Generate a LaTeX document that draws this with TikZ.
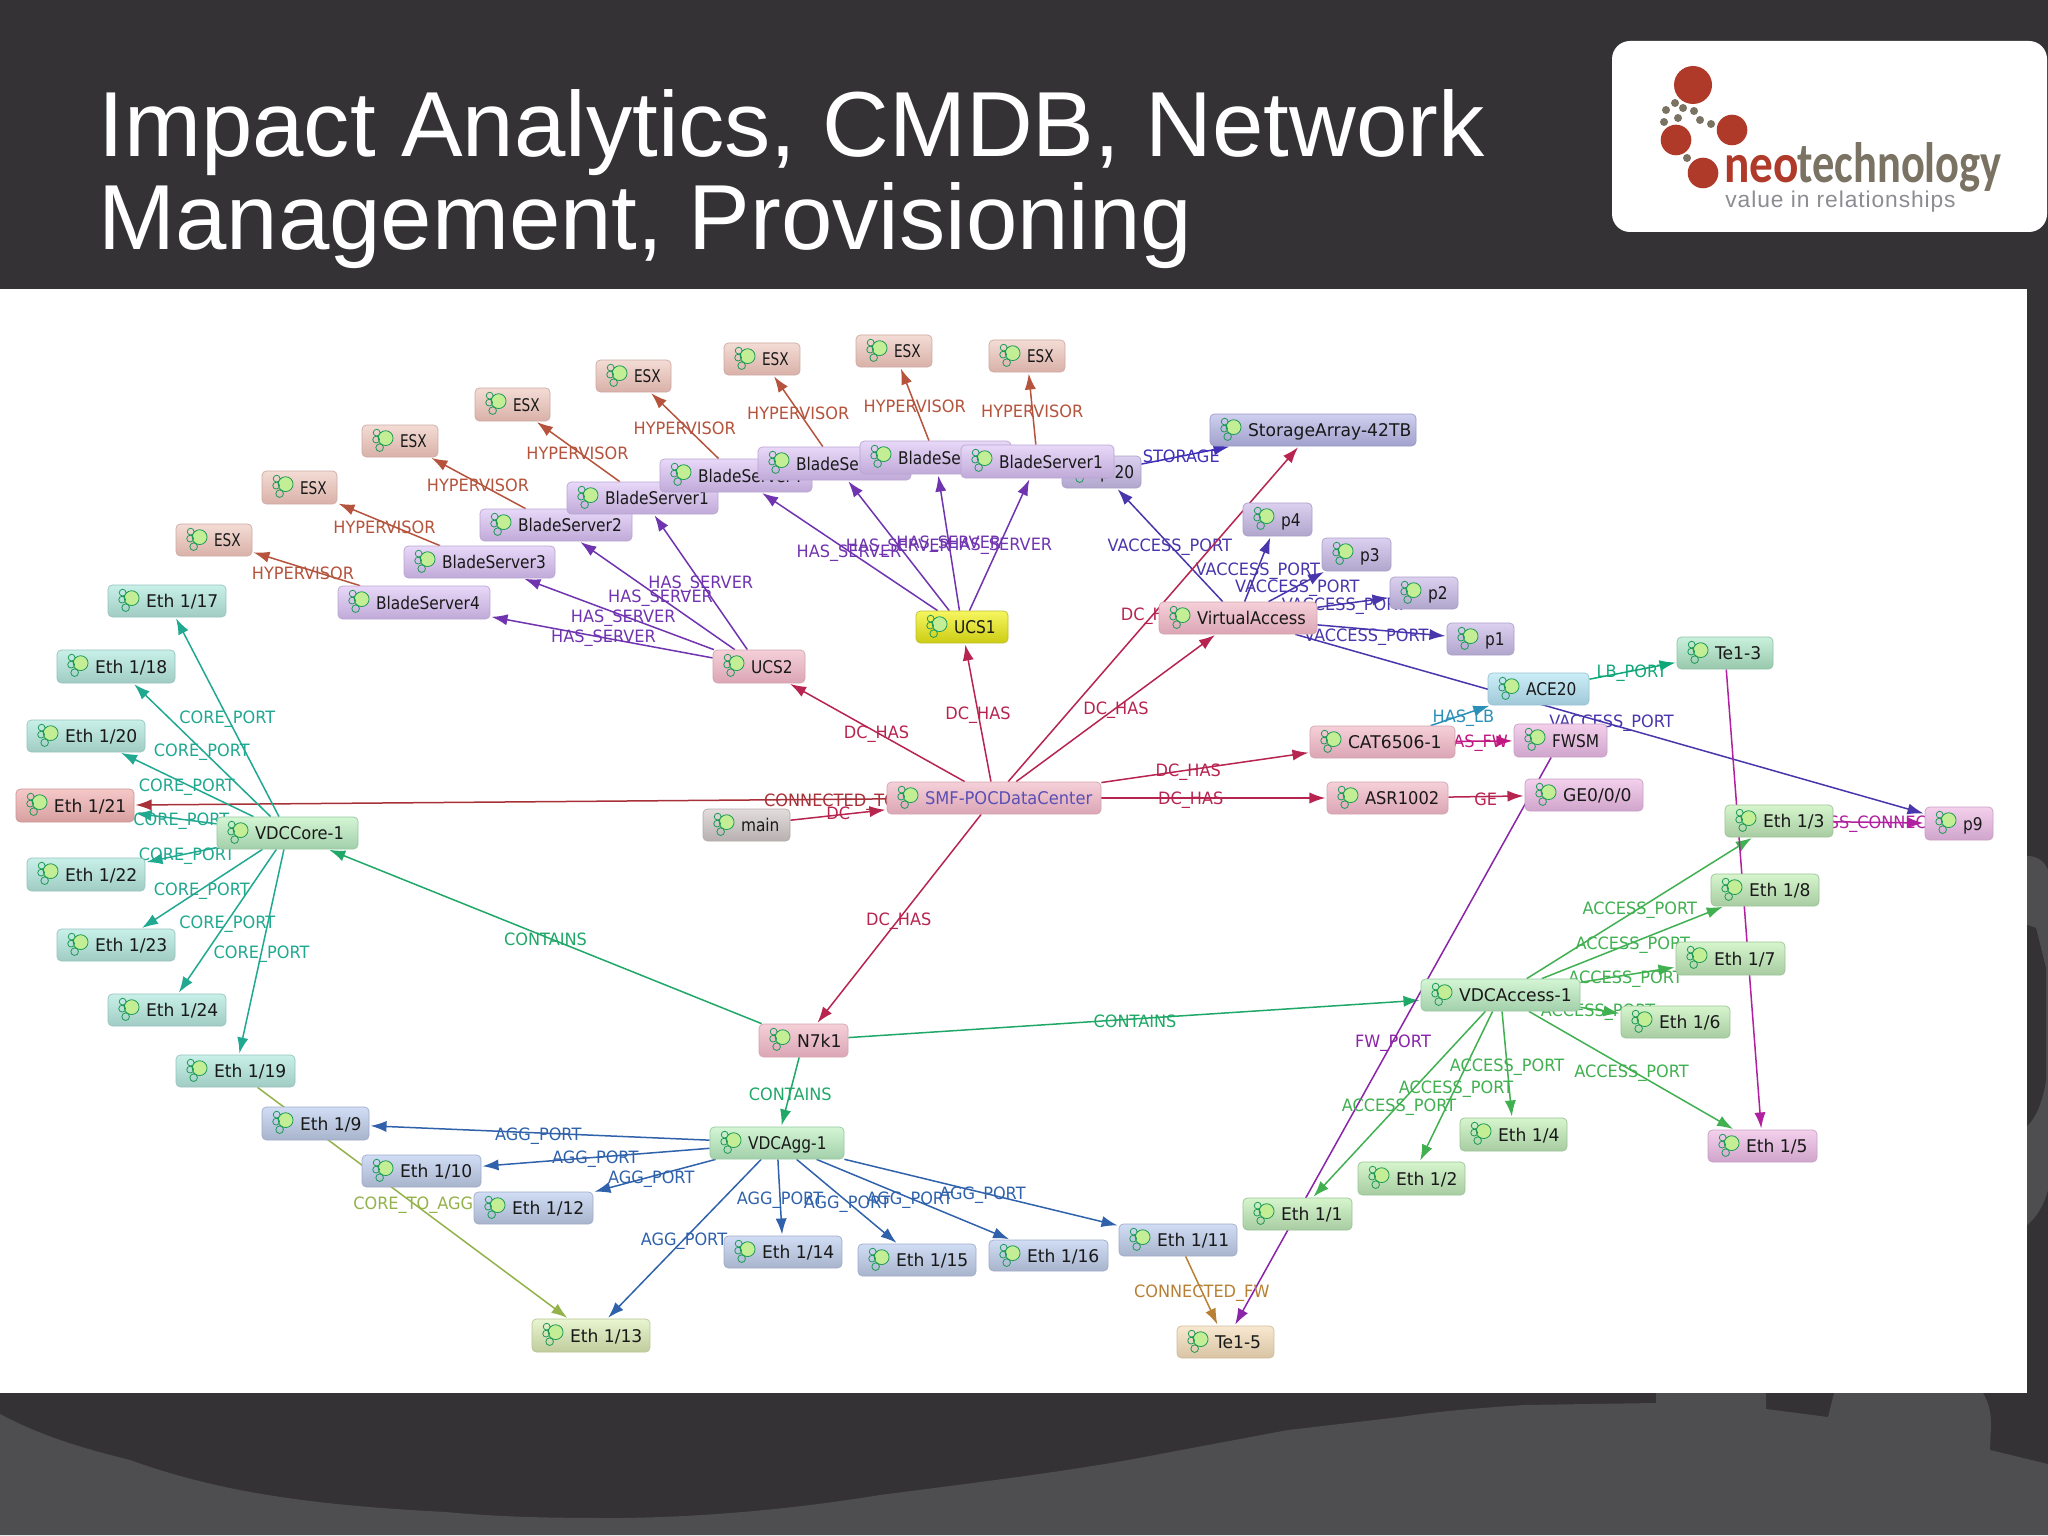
\documentclass[tikz,border=0pt]{standalone}
\usepackage{fontspec}
\usetikzlibrary{calc,arrows.meta}
\setmainfont{Liberation Sans}
\newfontfamily\nf[FakeStretch=0.88]{DejaVu Sans}
\newfontfamily\mf[FakeStretch=0.93]{DejaVu Sans}
\newfontfamily\ef[FakeStretch=0.98]{DejaVu Sans}
\newfontfamily\xf[FakeStretch=0.78]{DejaVu Sans}
\newfontfamily\lf[FakeStretch=0.95]{DejaVu Sans}
\newfontfamily\logoN[FakeStretch=0.86]{Carlito}
\newfontfamily\logoT[FakeStretch=0.78]{Carlito}
\pgfdeclarelayer{slide}\pgfdeclarelayer{edges}
\pgfsetlayers{slide,edges,main}
\definecolor{slidedark}{HTML}{343235}
\definecolor{slidelight}{HTML}{4E4D50}
\definecolor{logored}{HTML}{B03A2A}
\definecolor{logotan}{HTML}{7A7262}
\definecolor{logogrey}{HTML}{8C8C92}
\definecolor{cHV}{HTML}{B5533C}
\definecolor{cHS}{HTML}{7034B0}
\definecolor{cVP}{HTML}{4A36AC}
\definecolor{cDC}{HTML}{B82450}
\definecolor{cCT}{HTML}{A83038}
\definecolor{cCP}{HTML}{20A890}
\definecolor{cCO}{HTML}{20A868}
\definecolor{cAG}{HTML}{3062AC}
\definecolor{cCA}{HTML}{94B24A}
\definecolor{cLB}{HTML}{10A878}
\definecolor{cHL}{HTML}{2A90B8}
\definecolor{cFW}{HTML}{C01880}
\definecolor{cFP}{HTML}{8A24A8}
\definecolor{cCF}{HTML}{B88034}
\definecolor{cAC}{HTML}{40B050}
\definecolor{cST}{HTML}{4030B8}
\definecolor{cMG}{HTML}{B020A0}
\definecolor{smftext}{HTML}{5A4FB4}
\definecolor{icn}{HTML}{1D9A55}
\definecolor{icf}{HTML}{C4EE96}
\newlength\gnw
\newcounter{ec}
\newcommand{\mk}[4]{\definecolor{#1T}{HTML}{#2}\definecolor{#1B}{HTML}{#3}\definecolor{#1D}{HTML}{#4}\tikzset{#1/.style={top color=#1T,bottom color=#1B,draw=#1D}}}
\mk{nesx}{F3DCD5}{D9B1A8}{CDAAA5}
\mk{nteal}{C8F0E8}{A0CCC4}{96C3BE}
\mk{ngreen}{D4F5D4}{A2D0AA}{96C8A0}
\mk{naccess}{D6F5CD}{A8CCA2}{9BC396}
\mk{nblade}{E8D8F8}{C0AAD8}{B9A5D2}
\mk{nyellow}{F6F660}{CCCC14}{BEBE32}
\mk{npink}{F5D0D8}{DBA5B5}{D2A5AF}
\mk{nred}{F5C8C8}{D8A0A0}{CD9696}
\mk{ngrey}{E2DCDC}{B8B0B0}{B4AAAA}
\mk{nstore}{D0D0F0}{A0A0CC}{9B9BC8}
\mk{nport}{DCD0F0}{B0A5CC}{AAA0C8}
\mk{nmag}{F3D0EC}{D0A5CC}{C8A0C3}
\mk{nlb}{CCEEF8}{A0C8D8}{96C3D2}
\mk{nte}{C8F0DC}{98C8AC}{91C3A5}
\mk{nagg}{D0DDF5}{A8B4CC}{A0ACC8}
\mk{nolive}{E8F5D0}{C0CC9C}{B9C696}
\mk{ntan}{F8E8D0}{D8C4A4}{D0BC9B}
\tikzset{
 x=0.5pt,y=-0.5pt,
 gnode/.style={rounded corners=2.2pt,inner sep=0pt,line width=0.35pt,font=\fontsize{8.75}{10}\selectfont\nf,text=black!90,text height=6.5pt,text depth=0pt},
 edgeline/.style={line width=0.75pt,-{Latex[length=8pt,width=5.6pt]},shorten >=0.6pt},
 lab/.style={inner sep=0pt,yshift=-1.2pt,font=\fontsize{8.5}{10}\selectfont\lf},
 logotxt/.style={inner sep=0pt,anchor=base west},
}
\newcommand{\gn}[7]{%
 \pgfmathsetlength\gnw{(#4-#3)*0.5}%
 \node[gnode,#1,minimum width=\gnw,minimum height={(#6-#5)*0.5pt}] (#2) at ({(#3+#4)/2},{(#5+#6)/2}) {\makebox[\gnw][l]{\hspace{19pt}#7}};
 \begin{scope}[shift={(#2.north west)}]
  \fill[icf] (24,13.5) circle[radius=7.4];
  \draw[icn,line width=0.4pt] (24,13.5) circle[radius=7.4] (15,8) circle[radius=3.4] (14.5,15) circle[radius=3.4] (18,23) circle[radius=3.8];
 \end{scope}}
\newcommand{\ed}[5][0,0]{%
 \stepcounter{ec}%
 \begin{pgfonlayer}{edges}
 \draw[edgeline,#4] (#2) -- (#3);
 \node[lab,text=#4,shift={(#1)}] (L\arabic{ec}) at ($(#2)!.5!(#3)$) {#5};
 \end{pgfonlayer}}
\def\lHV{HYPERVISOR}\def\lHS{HAS\_SERVER}\def\lVP{VACCESS\_PORT}\def\lDH{DC\_HAS}
\def\lCP{CORE\_PORT}\def\lAG{AGG\_PORT}\def\lAP{ACCESS\_PORT}\def\lCN{CONTAINS}
\begin{document}
\begin{tikzpicture}
\useasboundingbox (0,0) rectangle (2048,1535);
\begin{pgfonlayer}{slide}
\fill[slidedark] (0,0) rectangle (2048,1535);
\fill[slidelight] (0,1414) .. controls (45,1438) and (90,1450) .. (130,1460) .. controls (180,1478) and (225,1488) .. (268,1495) .. controls (330,1505) and (390,1509) .. (446,1512) .. controls (510,1518) and (570,1518) .. (620,1518) .. controls (710,1517) and (800,1508) .. (880,1495) .. controls (980,1482) and (1080,1470) .. (1160,1454) -- (1288,1430) -- (1400,1417) .. controls (1440,1411) and (1480,1408) .. (1524,1405) -- (1656,1403) -- (1656,1393) -- (1766,1393) -- (1766,1409) -- (1828,1417) -- (1834,1393) -- (1983,1393) .. controls (1990,1405) and (1991,1415) .. (1991,1425) -- (1990,1450) -- (2048,1464) -- (2048,1535) -- (0,1535) -- cycle;
\fill[slidelight] (2027,856) .. controls (2036,856) and (2044,860) .. (2048,870) -- (2048,1190) .. controls (2044,1205) and (2036,1218) .. (2027,1225) -- cycle;
\fill[slidedark] (2027,925) -- (2036,928) -- (2046,968) -- (2046,1080) .. controls (2043,1100) and (2036,1118) .. (2027,1126) -- cycle;
\fill[white] (0,289) rectangle (2027,1393);
\end{pgfonlayer}
% title
\node[anchor=north west,inner sep=0pt,align=left,text=white,font=\fontsize{46.2}{46.7}\selectfont] (title) at (98,89) {Impact Analytics, CMDB, Network\\Management, Provisioning};
% logo
\node[fill=white,rounded corners=9pt,minimum width=217.5pt,minimum height=95.5pt,inner sep=0pt] (logobox) at (1829.5,136.5) {};
\fill[logored] (1693,85) circle[radius=19] (1732,130) circle[radius=15.3] (1676,140) circle[radius=15.3] (1703,173) circle[radius=15.3];
\fill[logotan] (1675,103) circle[radius=4] (1666,110) circle[radius=4] (1683,108) circle[radius=4] (1694,111) circle[radius=4] (1678,118) circle[radius=4] (1664,122) circle[radius=4] (1700,120) circle[radius=4] (1711,124) circle[radius=4] (1687,158) circle[radius=4];
\node[logotxt,text=logored,font=\fontsize{27.5}{28}\logoN\bfseries] (neo) at (1724,183) {neo};
\node[logotxt,text=logotan,font=\fontsize{28.5}{28}\logoT\bfseries] (tech) at (1797,183) {technology};
\node[logotxt,text=logogrey,font=\fontsize{11.4}{14}\selectfont\addfontfeature{LetterSpace=4}] (tag) at (1725,208) {value in relationships};
% nodes
\gn{nesx}{esxa}{176}{252}{524}{556}{\xf ESX}
\gn{nesx}{esxb}{262}{337}{471}{504}{\xf ESX}
\gn{nesx}{esxc}{362}{438}{425}{457}{\xf ESX}
\gn{nesx}{esxd}{475}{550}{388}{421}{\xf ESX}
\gn{nesx}{esxe}{596}{671}{360}{392}{\xf ESX}
\gn{nesx}{esxf}{724}{800}{343}{375}{\xf ESX}
\gn{nesx}{esxg}{856}{932}{335}{367}{\xf ESX}
\gn{nesx}{esxh}{989}{1065}{340}{372}{\xf ESX}
\gn{nstore}{storage}{1210}{1416}{414}{446}{\ef StorageArray-42TB}
\gn{nport}{vp20}{1062}{1141}{456}{488}{p 20}
\gn{nblade}{bsFour}{338}{490}{586}{619}{BladeServer4}
\gn{nblade}{bsThree}{404}{555}{546}{578}{BladeServer3}
\gn{nblade}{bsTwo}{480}{632}{509}{541}{BladeServer2}
\gn{nblade}{bsOne}{567}{718}{482}{514}{BladeServer1}
\gn{nblade}{usFour}{660}{812}{459}{492}{BladeServer4}
\gn{nblade}{usThree}{758}{911}{447}{480}{BladeServer3}
\gn{nblade}{usTwo}{860}{1011}{441}{474}{BladeServer2}
\gn{nblade}{usOne}{961}{1114}{445}{478}{BladeServer1}
\gn{nport}{pfour}{1243}{1312}{503}{536}{p4}
\gn{nport}{pthree}{1322}{1391}{538}{571}{p3}
\gn{nport}{ptwo}{1390}{1458}{577}{609}{p2}
\gn{nport}{pone}{1447}{1514}{623}{655}{p1}
\gn{nyellow}{ucsone}{916}{1008}{611}{643}{UCS1}
\gn{npink}{ucstwo}{713}{805}{650}{683}{UCS2}
\gn{npink}{vaccess}{1159}{1317}{602}{634}{\mf VirtualAccess}
\gn{npink}{smf}{887}{1101}{782}{814}{\mf\textcolor{smftext}{SMF-POCDataCenter}}
\gn{ngrey}{mainn}{703}{790}{809}{841}{main}
\gn{npink}{cat}{1310}{1455}{726}{758}{\ef CAT6506-1}
\gn{npink}{asr}{1327}{1448}{782}{814}{\mf ASR1002}
\gn{nmag}{gezero}{1525}{1643}{779}{811}{\ef GE0/0/0}
\gn{nmag}{fwsm}{1514}{1607}{724}{757}{FWSM}
\gn{nlb}{ace}{1488}{1589}{673}{705}{ACE20}
\gn{nte}{teone}{1677}{1773}{637}{669}{\ef Te1-3}
\gn{nmag}{pnine}{1925}{1993}{807}{840}{p9}
\gn{nteal}{ethSeventeen}{108}{226}{585}{617}{\ef Eth 1/17}
\gn{nteal}{ethEighteen}{57}{175}{650}{683}{\ef Eth 1/18}
\gn{nteal}{ethTwenty}{27}{145}{720}{752}{\ef Eth 1/20}
\gn{nred}{ethTwentyOne}{16}{134}{789}{822}{\ef Eth 1/21}
\gn{nteal}{ethTwentyTwo}{27}{145}{858}{891}{\ef Eth 1/22}
\gn{nteal}{ethTwentyThree}{57}{175}{929}{961}{\ef Eth 1/23}
\gn{nteal}{ethTwentyFour}{108}{226}{994}{1026}{\ef Eth 1/24}
\gn{nteal}{ethNineteen}{176}{295}{1055}{1087}{\ef Eth 1/19}
\gn{ngreen}{core}{217}{358}{817}{849}{\mf VDCCore-1}
\gn{npink}{nseven}{759}{848}{1024}{1057}{\ef N7k1}
\gn{ngreen}{agg}{710}{844}{1127}{1159}{VDCAgg-1}
\gn{nagg}{ethNine}{262}{369}{1107}{1140}{\ef Eth 1/9}
\gn{nagg}{ethTen}{362}{481}{1155}{1187}{\ef Eth 1/10}
\gn{nagg}{ethTwelve}{474}{593}{1192}{1224}{\ef Eth 1/12}
\gn{nolive}{ethThirteen}{532}{650}{1319}{1352}{\ef Eth 1/13}
\gn{nagg}{ethFourteen}{724}{842}{1236}{1268}{\ef Eth 1/14}
\gn{nagg}{ethFifteen}{858}{976}{1244}{1276}{\ef Eth 1/15}
\gn{nagg}{ethSixteen}{989}{1108}{1240}{1271}{\ef Eth 1/16}
\gn{nagg}{ethEleven}{1119}{1237}{1224}{1256}{\ef Eth 1/11}
\gn{ntan}{tefive}{1177}{1274}{1326}{1358}{\ef Te1-5}
\gn{ngreen}{access}{1421}{1580}{979}{1011}{\ef VDCAccess-1}
\gn{naccess}{ethThree}{1725}{1833}{805}{837}{\ef Eth 1/3}
\gn{naccess}{ethEight}{1711}{1819}{874}{906}{\ef Eth 1/8}
\gn{naccess}{ethSeven}{1676}{1785}{942}{975}{\ef Eth 1/7}
\gn{naccess}{ethSix}{1621}{1730}{1006}{1038}{\ef Eth 1/6}
\gn{nmag}{ethFive}{1708}{1817}{1130}{1162}{\ef Eth 1/5}
\gn{naccess}{ethFour}{1460}{1567}{1118}{1151}{\ef Eth 1/4}
\gn{naccess}{ethTwo}{1358}{1465}{1162}{1195}{\ef Eth 1/2}
\gn{naccess}{ethOne}{1243}{1352}{1198}{1230}{\ef Eth 1/1}
% edges
\ed[-11,0]{bsFour}{esxa}{cHV}{\lHV}
\ed[-5,0]{bsThree}{esxb}{cHV}{\lHV}
\ed{bsTwo}{esxc}{cHV}{\lHV}
\ed{bsOne}{esxd}{cHV}{\lHV}
\ed{usFour}{esxe}{cHV}{\lHV}
\ed{usThree}{esxf}{cHV}{\lHV}
\ed{usTwo}{esxg}{cHV}{\lHV}
\ed{usOne}{esxh}{cHV}{\lHV}
\ed[17,1]{ucstwo}{bsFour}{cHS}{\lHS}
\ed[4,2]{ucstwo}{bsThree}{cHS}{\lHS}
\ed[3,0]{ucstwo}{bsTwo}{cHS}{\lHS}
\ed{ucstwo}{bsOne}{cHS}{\lHS}
\ed{ucsone}{usFour}{cHS}{\lHS}
\ed{ucsone}{usThree}{cHS}{\lHS}
\ed{ucsone}{usTwo}{cHS}{\lHS}
\ed{ucsone}{usOne}{cHS}{\lHS}
\ed{vaccess}{vp20}{cVP}{\lVP}
\ed{vaccess}{pfour}{cVP}{\lVP}
\ed{vaccess}{pthree}{cVP}{\lVP}
\ed[13,-2]{vaccess}{ptwo}{cVP}{\lVP}
\ed[7,6]{vaccess}{pone}{cVP}{\lVP}
\ed[13,0]{vaccess}{pnine}{cVP}{\lVP}
\ed[-26,3]{vp20}{storage}{cST}{STORAGE}
\ed{smf}{ucstwo}{cDC}{\lDH}
\ed{smf}{ucsone}{cDC}{\lDH}
\ed{smf}{storage}{cDC}{\lDH}
\ed{smf}{vaccess}{cDC}{\lDH}
\ed{smf}{cat}{cDC}{\lDH}
\ed{smf}{asr}{cDC}{\lDH}
\ed{smf}{nseven}{cDC}{\lDH}
\ed[-32,-1]{mainn}{smf}{cDC}{DC}
\ed[296,-2]{smf}{ethTwentyOne}{cCT}{CONNECTED\_TO}
\ed{core}{ethSeventeen}{cCP}{\lCP}
\ed{core}{ethEighteen}{cCP}{\lCP}
\ed{core}{ethTwenty}{cCP}{\lCP}
\ed{core}{ethTwentyOne}{cCP}{\lCP}
\ed{core}{ethTwentyTwo}{cCP}{\lCP}
\ed{core}{ethTwentyThree}{cCP}{\lCP}
\ed{core}{ethTwentyFour}{cCP}{\lCP}
\ed{core}{ethNineteen}{cCP}{\lCP}
\ed{nseven}{core}{cCO}{\lCN}
\ed[-17,1]{nseven}{access}{cCO}{\lCN}
\ed{nseven}{agg}{cCO}{\lCN}
\ed[-8,1]{agg}{ethNine}{cAG}{\lAG}
\ed[-4,0]{agg}{ethTen}{cAG}{\lAG}
\ed[-4,1]{agg}{ethTwelve}{cAG}{\lAG}
\ed{agg}{ethThirteen}{cAG}{\lAG}
\ed{agg}{ethFourteen}{cAG}{\lAG}
\ed{agg}{ethFifteen}{cAG}{\lAG}
\ed[-3,-1]{agg}{ethSixteen}{cAG}{\lAG}
\ed[5,1]{agg}{ethEleven}{cAG}{\lAG}
\ed{ethNineteen}{ethThirteen}{cCA}{CORE\_TO\_AGG}
\ed{ace}{teone}{cLB}{LB\_PORT}
\ed[3,0]{cat}{ace}{cHL}{HAS\_LB}
\ed[3,0]{cat}{fwsm}{cFW}{HAS\_FW}
\ed{asr}{gezero}{cDC}{GE}
\ed{fwsm}{tefive}{cFP}{FW\_PORT}
\ed{ethEleven}{tefive}{cCF}{CONNECTED\_FW}
\ed[-8,0]{ethThree}{pnine}{cMG}{ACCESS\_CONNECT}
\ed{access}{ethThree}{cAC}{\lAP}
\ed{access}{ethEight}{cAC}{\lAP}
\ed[10,0]{access}{ethSeven}{cAC}{\lAP}
\ed[10,1]{access}{ethSix}{cAC}{\lAP}
\ed{access}{ethFive}{cAC}{\lAP}
\ed{access}{ethFour}{cAC}{\lAP}
\ed{access}{ethTwo}{cAC}{\lAP}
\ed{access}{ethOne}{cAC}{\lAP}
\begin{pgfonlayer}{edges}
\draw[edgeline,cMG] (teone) -- (ethFive);
\end{pgfonlayer}
\end{tikzpicture}
\end{document}
